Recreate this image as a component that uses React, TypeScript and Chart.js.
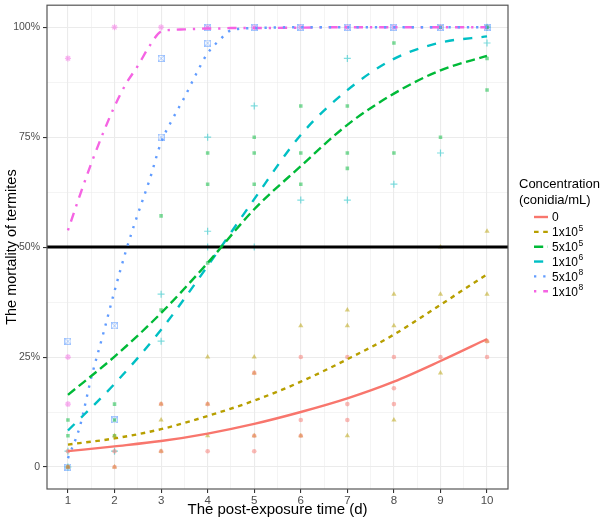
import React, { useEffect, useRef } from "react";
import { Chart, registerables } from "chart.js";
Chart.register(...registerables);

// ---------- axes ----------
const X_MIN = 0.55;
const X_MAX = 10.45;
const Y_MIN = -0.05;
const Y_MAX = 1.05;
const xMajorTicks = [1, 2, 3, 4, 5, 6, 7, 8, 9, 10];
const xMinorTicks = [1.5, 2.5, 3.5, 4.5, 5.5, 6.5, 7.5, 8.5, 9.5];
const yMajorTicks = [0, 0.25, 0.5, 0.75, 1];
const yTickLabels = ["0", "25%", "50%", "75%", "100%"];
const yMinorTicks = [0.125, 0.375, 0.625, 0.875];
const thresholdValue = 0.5;

const xTitle = "The post-exposure time (d)";
const yTitle = "The mortality of termites";
const legendTitle = ["Concentration", "(conidia/mL)"];

// ---------- series ----------
const seriesNames = ["0", "1x10⁵", "5x10⁵", "1x10⁶", "5x10⁸", "1x10⁸"];
const seriesColors = ["#F8766D", "#B79F00", "#00BA38", "#00BFC4", "#619CFF", "#F564E3"];
const seriesDash = [[], [4.6, 4.6], [9.2, 4.6], [9.2, 9.2], [2.3, 6.9], [2.3, 6.9, 9.2, 6.9]];

// fitted curves
const fitDays = [1, 2, 3, 4, 5, 6, 7, 8, 9, 10];
const fit0 = [0.036, 0.047, 0.059, 0.076, 0.098, 0.125, 0.156, 0.194, 0.241, 0.291];
const fit1e5 = [0.051, 0.065, 0.086, 0.116, 0.151, 0.194, 0.245, 0.301, 0.369, 0.438];
const fit5e5 = [0.164, 0.251, 0.35, 0.464, 0.586, 0.684, 0.778, 0.849, 0.902, 0.935];
const fit1e6 = [0.083, 0.189, 0.312, 0.457, 0.609, 0.755, 0.857, 0.928, 0.965, 0.979];
const fitDaysFine = [1, 1.25, 1.5, 1.75, 2, 2.25, 2.5, 2.75, 3, 3.25, 3.5, 3.75, 4, 4.25, 4.5, 5, 6, 7, 8, 9, 10];
const fit5e8 = [0.02, 0.09, 0.203, 0.3, 0.4, 0.493, 0.575, 0.652, 0.738, 0.792, 0.84, 0.893, 0.941, 0.97, 0.993, 0.998, 1, 1, 1, 1, 1];
const fit1e8 = [0.538, 0.616, 0.69, 0.758, 0.82, 0.872, 0.912, 0.957, 0.99, 0.994, 0.995, 0.996, 0.997, 0.997, 0.998, 0.998, 0.999, 1, 1, 1, 1];

// observed replicate mortality
const obs0X = [1, 1, 2, 2, 3, 3, 4, 4, 5, 5, 5, 6, 6, 6, 7, 7, 7, 8, 8, 8, 9, 10, 10];
const obs0Y = [0.036, 0, 0.036, 0, 0.143, 0.036, 0.143, 0.036, 0.214, 0.071, 0.036, 0.25, 0.107, 0.071, 0.25, 0.143, 0.107, 0.25, 0.179, 0.143, 0.25, 0.286, 0.25];
const obs1e5X = [1, 2, 2, 3, 3, 3, 4, 4, 4, 5, 5, 5, 6, 6, 7, 7, 7, 8, 8, 8, 9, 9, 9, 10, 10, 10];
const obs1e5Y = [0, 0.071, 0, 0.143, 0.107, 0.036, 0.25, 0.143, 0.071, 0.25, 0.214, 0.071, 0.321, 0.071, 0.357, 0.321, 0.071, 0.393, 0.321, 0.107, 0.5, 0.393, 0.214, 0.536, 0.393, 0.286];
const obs5e5X = [1, 1, 1, 2, 2, 2, 3, 3, 4, 4, 4, 5, 5, 5, 6, 6, 6, 7, 7, 7, 8, 8, 9, 9, 10, 10, 10];
const obs5e5Y = [0.107, 0.071, 0, 0.143, 0.107, 0.071, 0.571, 0.357, 0.714, 0.643, 0.464, 0.75, 0.714, 0.643, 0.821, 0.714, 0.643, 0.821, 0.714, 0.679, 0.964, 0.714, 0.75, 1, 1, 0.929, 0.857];
const obs1e6X = [1, 1, 2, 3, 3, 4, 4, 4, 5, 5, 6, 7, 7, 8, 9, 10, 10];
const obs1e6Y = [0.036, 0, 0.036, 0.393, 0.286, 0.75, 0.536, 0.5, 0.821, 0.5, 0.607, 0.929, 0.607, 0.643, 0.714, 0.964, 1];
const obs5e8X = [1, 1, 2, 2, 3, 3, 4, 4, 5, 6, 7, 8, 9, 10];
const obs5e8Y = [0.286, 0, 0.321, 0.107, 0.929, 0.75, 1, 0.964, 1, 1, 1, 1, 1, 1];
const obs1e8X = [1, 1, 1, 2, 3, 4, 5, 6, 7, 8, 9, 10];
const obs1e8Y = [0.929, 0.25, 0.143, 1, 1, 1, 1, 1, 1, 1, 1, 1];

const fitXs = [fitDays, fitDays, fitDays, fitDays, fitDaysFine, fitDaysFine];
const fitYs = [fit0, fit1e5, fit5e5, fit1e6, fit5e8, fit1e8];
const obsXs = [obs0X, obs1e5X, obs5e5X, obs1e6X, obs5e8X, obs1e8X];
const obsYs = [obs0Y, obs1e5Y, obs5e5Y, obs1e6Y, obs5e8Y, obs1e8Y];

const FONT = '"Liberation Sans", Arial, sans-serif';

function hexA(hex: string, a: number) {
  const n = parseInt(hex.slice(1), 16);
  return `rgba(${(n >> 16) & 255},${(n >> 8) & 255},${n & 255},${a})`;
}

function makeSquareCross(color: string, size: number) {
  const c = document.createElement("canvas");
  c.width = size;
  c.height = size;
  const g = c.getContext("2d")!;
  g.strokeStyle = color;
  g.lineWidth = 1;
  g.strokeRect(0.5, 0.5, size - 1, size - 1);
  g.beginPath();
  g.moveTo(0.5, 0.5);
  g.lineTo(size - 0.5, size - 0.5);
  g.moveTo(size - 0.5, 0.5);
  g.lineTo(0.5, size - 0.5);
  g.stroke();
  return c;
}

const supMap: Record<string, string> = { "⁰": "0", "¹": "1", "²": "2", "³": "3", "⁴": "4", "⁵": "5", "⁶": "6", "⁷": "7", "⁸": "8", "⁹": "9" };

export default function App() {
  const ref = useRef<HTMLCanvasElement>(null);
  useEffect(() => {
    if (!ref.current) return;
    Chart.defaults.font.family = FONT;
    const squareCross = makeSquareCross(hexA(seriesColors[4], 0.55), 7);

    const pointStyles: any[] = ["circle", "triangle", "rect", "cross", squareCross, "star"];
    const pointRadius = [2.3, 3, 2.5, 3.5, 3.5, 3];

    const datasets: any[] = [];
    seriesNames.forEach((name, i) => {
      datasets.push({
        type: "line",
        label: name,
        data: fitXs[i].map((x, j) => ({ x, y: fitYs[i][j] })),
        borderColor: seriesColors[i],
        borderWidth: 2.4,
        borderDash: seriesDash[i],
        pointRadius: 0,
        cubicInterpolationMode: "monotone",
        fill: false,
        order: 0,
      });
    });
    datasets.push({
      type: "line",
      label: "threshold",
      data: [{ x: X_MIN, y: thresholdValue }, { x: X_MAX, y: thresholdValue }],
      borderColor: "#000000",
      borderWidth: 3,
      pointRadius: 0,
      order: 1,
    });
    seriesNames.forEach((name, i) => {
      const col = hexA(seriesColors[i], 0.5);
      const isLine = i === 3 || i === 5;
      datasets.push({
        type: "line",
        label: name + " obs",
        data: obsXs[i].map((x, j) => ({ x, y: obsYs[i][j] })),
        showLine: false,
        pointStyle: pointStyles[i],
        pointRadius: pointRadius[i],
        pointBackgroundColor: col,
        pointBorderColor: col,
        pointBorderWidth: isLine ? 1.2 : 0,
        order: 2,
      });
    });

    const isMajorX = (v: number) => xMajorTicks.includes(v);
    const isMajorY = (v: number) => yMajorTicks.some((t) => Math.abs(t - v) < 1e-9);

    const framePlugin = {
      id: "frame",
      afterDatasetsDraw(chart: any) {
        const { ctx, chartArea } = chart;
        ctx.save();
        ctx.strokeStyle = "#555555";
        ctx.lineWidth = 1.2;
        ctx.strokeRect(chartArea.left, chartArea.top, chartArea.right - chartArea.left, chartArea.bottom - chartArea.top);
        ctx.restore();
      },
    };

    const legendPlugin = {
      id: "customLegend",
      afterDraw(chart: any) {
        const ctx = chart.ctx;
        ctx.save();
        ctx.fillStyle = "#000000";
        ctx.textBaseline = "middle";
        ctx.textAlign = "left";
        ctx.font = `13px ${FONT}`;
        ctx.fillText(legendTitle[0], 519, 184);
        ctx.fillText(legendTitle[1], 519, 200);
        const x0 = 534;
        const x1 = 548;
        seriesNames.forEach((name, i) => {
          const y = 217 + i * 14.85;
          ctx.strokeStyle = seriesColors[i];
          ctx.lineWidth = 2.4;
          ctx.setLineDash(seriesDash[i]);
          ctx.beginPath();
          ctx.moveTo(x0, y);
          ctx.lineTo(x1, y);
          ctx.stroke();
          ctx.setLineDash([]);
          let base = "";
          let sup = "";
          for (const ch of name) {
            if (supMap[ch]) sup += supMap[ch];
            else base += ch;
          }
          ctx.fillStyle = "#000000";
          ctx.font = `12px ${FONT}`;
          ctx.fillText(base, 552, y + 1);
          if (sup) {
            const w = ctx.measureText(base).width;
            ctx.font = `8.5px ${FONT}`;
            ctx.fillText(sup, 552 + w + 0.5, y - 3.5);
          }
        });
        ctx.restore();
      },
    };

    const chart = new Chart(ref.current, {
      type: "line",
      data: { datasets },
      options: {
        animation: false,
        responsive: true,
        maintainAspectRatio: false,
        layout: { padding: { left: 0, right: 94, top: 1, bottom: 0 } },
        plugins: { legend: { display: false }, tooltip: { enabled: false } },
        scales: {
          x: {
            type: "linear",
            min: X_MIN,
            max: X_MAX,
            afterBuildTicks: (s: any) => {
              s.ticks = [...xMajorTicks, ...xMinorTicks].sort((a, b) => a - b).map((v) => ({ value: v }));
            },
            afterFit: (s: any) => {
              s.height = 31;
              s.paddingLeft = 0;
              s.paddingRight = 0;
            },
            ticks: {
              autoSkip: false,
              maxRotation: 0,
              padding: 1,
              color: "#4D4D4D",
              font: { size: 11.5, family: FONT },
              callback: (v: any) => (isMajorX(Number(v)) ? String(v) : ""),
            },
            grid: {
              color: "#EBEBEB",
              lineWidth: (c: any) => (isMajorX(c.tick.value) ? 1.1 : 0.55),
              tickColor: (c: any) => (isMajorX(c.tick.value) ? "#333333" : "rgba(0,0,0,0)"),
              tickLength: 4,
              drawTicks: true,
            },
            border: { display: false },
            title: {
              display: true,
              text: xTitle,
              color: "#000000",
              font: { size: 15, family: FONT },
              padding: { top: 0, bottom: 1 },
            },
          },
          y: {
            type: "linear",
            min: Y_MIN,
            max: Y_MAX,
            afterBuildTicks: (s: any) => {
              s.ticks = [...yMajorTicks, ...yMinorTicks].sort((a, b) => a - b).map((v) => ({ value: v }));
            },
            afterFit: (s: any) => {
              s.width = 47;
              s.paddingTop = 0;
              s.paddingBottom = 0;
            },
            ticks: {
              autoSkip: false,
              padding: 3,
              color: "#4D4D4D",
              font: { size: 10.5, family: FONT },
              callback: (v: any) => {
                const idx = yMajorTicks.findIndex((t) => Math.abs(t - Number(v)) < 1e-9);
                return idx >= 0 ? yTickLabels[idx] : "";
              },
            },
            grid: {
              color: "#EBEBEB",
              lineWidth: (c: any) => (isMajorY(c.tick.value) ? 1.1 : 0.55),
              tickColor: (c: any) => (isMajorY(c.tick.value) ? "#333333" : "rgba(0,0,0,0)"),
              tickLength: 4,
              drawTicks: true,
            },
            border: { display: false },
            title: {
              display: true,
              text: yTitle,
              color: "#000000",
              font: { size: 14.5, family: FONT },
              padding: { top: 3, bottom: 0 },
            },
          },
        },
      },
      plugins: [framePlugin, legendPlugin],
    } as any);
    return () => chart.destroy();
  }, []);

  return (
    <div style={{ position: "fixed", left: 0, top: 0, width: 602, height: 520, background: "#ffffff" }}>
      <canvas ref={ref} />
    </div>
  );
}
